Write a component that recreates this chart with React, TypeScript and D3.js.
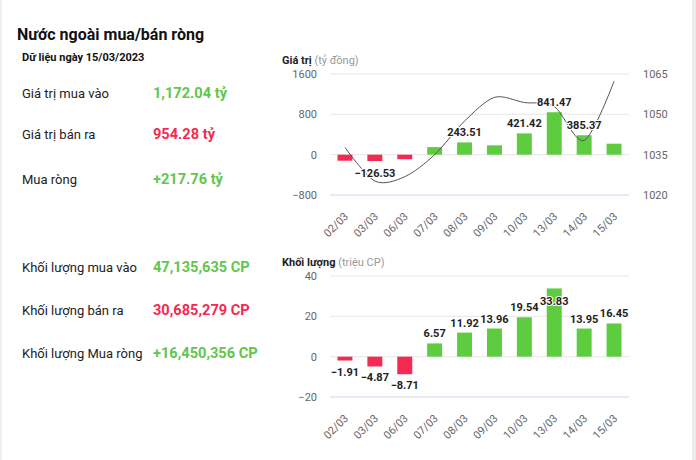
import React from "react";
import * as d3 from "d3";

const categories = ["02/03", "03/03", "06/03", "07/03", "08/03", "09/03", "10/03", "13/03", "14/03", "15/03"];
const netValue = [-120, -126.53, -90, 150, 243.51, 185, 421.42, 841.47, 385.37, 217.76];
const valueLabelShown = [false, true, false, false, true, false, true, true, true, false];
const indexLine = [1037.7, 1025.2, 1026.8, 1035.0, 1047.5, 1056.3, 1054.4, 1052.9, 1040.3, 1062.3];
const netVolume = [-1.91, -4.87, -8.71, 6.57, 11.92, 13.96, 19.54, 33.83, 13.95, 16.45];
const valueTicks = [-800, 0, 800, 1600];
const indexTicks = [1020, 1035, 1050, 1065];
const volumeTicks = [-20, 0, 20, 40];

const summaryRows1 = [
  { label: "Giá trị mua vào", value: "1,172.04 tỷ", tone: "up" },
  { label: "Giá trị bán ra", value: "954.28 tỷ", tone: "down" },
  { label: "Mua ròng", value: "+217.76 tỷ", tone: "up" },
];
const summaryRows2 = [
  { label: "Khối lượng mua vào", value: "47,135,635 CP", tone: "up" },
  { label: "Khối lượng bán ra", value: "30,685,279 CP", tone: "down" },
  { label: "Khối lượng Mua ròng", value: "+16,450,356 CP", tone: "up" },
];

const GREEN = "#5dcd3f";
const GREEN_TEXT = "#62c64c";
const RED = "#f42a52";
const FONT = "Roboto, 'Liberation Sans', Arial, sans-serif";

function fmt(v: number) {
  return v.toFixed(2).replace("-", "\u2212");
}

export default function App() {
  const left = 330, right = 629;
  const x = d3.scaleBand<string>().domain(categories).range([left, right]).paddingInner(0.5).paddingOuter(0.25);
  const bw = x.bandwidth();
  const cx = (c: string) => (x(c) as number) + bw / 2;

  const yV = d3.scaleLinear().domain([-800, 1600]).range([195, 74]);
  const yI = d3.scaleLinear().domain([1020, 1065]).range([195, 74]);
  const yQ = d3.scaleLinear().domain([-20, 40]).range([397, 276]);

  const line = d3
    .line<number>()
    .x((_, i) => cx(categories[i]))
    .y((d) => yI(d))
    .curve(d3.curveCardinal.tension(0.1));

  const tickColor = "#666";
  const gridColor = "#e6e6e6";
  const axisColor = "#ccd6eb";

  const xLabels = (baseY: number) =>
    categories.map((c) => (
      <text
        key={c}
        transform={`translate(${cx(c) + 4},${baseY}) rotate(-45)`}
        textAnchor="end"
        fontSize={11}
        fill={tickColor}
        fontFamily={FONT}
      >
        {c}
      </text>
    ));

  const labelStyle = {
    fontSize: 11,
    fontWeight: 700,
    fill: "#222",
    stroke: "#fff",
    strokeWidth: 2,
    paintOrder: "stroke" as const,
    strokeLinejoin: "round" as const,
    fontFamily: FONT,
  };

  return (
    <svg width={696} height={460} style={{ position: "absolute", left: 0, top: 0, background: "#fff" }}>
      <rect x={0} y={0} width={2} height={460} fill="#eeeeee" />
      <rect x={692} y={0} width={4} height={460} fill="#ececec" />

      <text x={17} y={40} fontSize={16} fontWeight={700} fill="#111" fontFamily={FONT}>
        Nước ngoài mua/bán ròng
      </text>
      <text x={22} y={61} fontSize={11} fontWeight={700} fill="#111" fontFamily={FONT}>
        Dữ liệu ngày 15/03/2023
      </text>
      {summaryRows1.map((r, i) => (
        <g key={r.label}>
          <text x={22} y={[98, 139, 184][i]} fontSize={13} fill="#222" fontFamily={FONT}>
            {r.label}
          </text>
          <text x={153} y={[98, 139, 184][i]} fontSize={14.6} fontWeight={700} fill={r.tone === "up" ? GREEN_TEXT : RED} fontFamily={FONT}>
            {r.value}
          </text>
        </g>
      ))}
      {summaryRows2.map((r, i) => (
        <g key={r.label}>
          <text x={22} y={[272, 315, 358][i]} fontSize={13} fill="#222" fontFamily={FONT}>
            {r.label}
          </text>
          <text x={153} y={[272, 315, 358][i]} fontSize={14.6} fontWeight={700} fill={r.tone === "up" ? GREEN_TEXT : RED} fontFamily={FONT}>
            {r.value}
          </text>
        </g>
      ))}

      {/* Top chart */}
      <text x={282} y={64} fontSize={11} fontFamily={FONT}>
        <tspan fontWeight={700} fill="#222">Giá trị</tspan>
        <tspan fill="#999"> (tỷ đồng)</tspan>
      </text>
      {valueTicks.map((t) => (
        <g key={t}>
          <line x1={left} x2={right} y1={yV(t)} y2={yV(t)} stroke={t === -800 ? axisColor : gridColor} strokeWidth={1} />
          <text x={317} y={yV(t) + 4} textAnchor="end" fontSize={11} fill={tickColor} fontFamily={FONT}>
            {t < 0 ? "\u2212" + Math.abs(t) : t}
          </text>
        </g>
      ))}
      {indexTicks.map((t) => (
        <text key={t} x={643} y={yI(t) + 4} fontSize={11} fill={tickColor} fontFamily={FONT}>
          {t}
        </text>
      ))}
      {netValue.map((v, i) => (
        <rect
          key={i}
          x={x(categories[i])}
          width={bw}
          y={Math.min(yV(v), yV(0))}
          height={Math.abs(yV(v) - yV(0))}
          fill={v >= 0 ? GREEN : RED}
        />
      ))}
      <path d={line(indexLine) || ""} fill="none" stroke="#555" strokeWidth={1} />
      {netValue.map((v, i) =>
        valueLabelShown[i] ? (
          <text
            key={i}
            x={cx(categories[i])}
            y={v >= 0 ? yV(v) - 6 : yV(v) + 16}
            textAnchor="middle"
            {...labelStyle}
          >
            {fmt(v)}
          </text>
        ) : null
      )}
      {xLabels(217)}

      {/* Bottom chart */}
      <text x={282} y={266} fontSize={11} fontFamily={FONT}>
        <tspan fontWeight={700} fill="#222">Khối lượng</tspan>
        <tspan fill="#999"> (triệu CP)</tspan>
      </text>
      {volumeTicks.map((t) => (
        <g key={t}>
          <line x1={left} x2={right} y1={yQ(t)} y2={yQ(t)} stroke={t === -20 ? axisColor : gridColor} strokeWidth={1} />
          <text x={317} y={yQ(t) + 4} textAnchor="end" fontSize={11} fill={tickColor} fontFamily={FONT}>
            {t < 0 ? "\u2212" + Math.abs(t) : t}
          </text>
        </g>
      ))}
      {netVolume.map((v, i) => (
        <rect
          key={i}
          x={x(categories[i])}
          width={bw}
          y={Math.min(yQ(v), yQ(0))}
          height={Math.abs(yQ(v) - yQ(0))}
          fill={v >= 0 ? GREEN : RED}
        />
      ))}
      {netVolume.map((v, i) => {
        const top = yQ(v);
        const inside = top - 16 < 282;
        const ly = v >= 0 ? (inside ? top + 17 : top - 6) : top + 15;
        return (
          <text key={i} x={cx(categories[i])} y={ly} textAnchor="middle" {...labelStyle}>
            {fmt(v)}
          </text>
        );
      })}
      {xLabels(419)}
    </svg>
  );
}
